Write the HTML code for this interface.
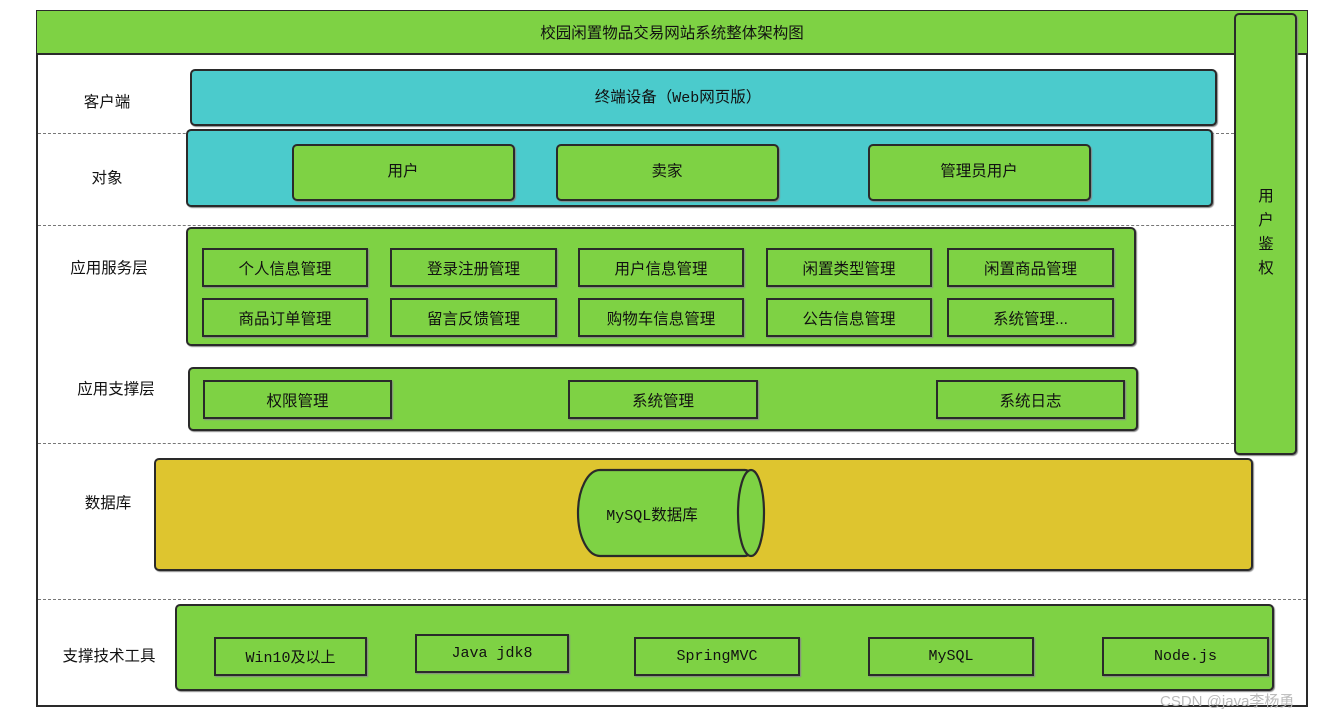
<!DOCTYPE html>
<html><head><meta charset="utf-8"><style>
*{margin:0;padding:0;box-sizing:border-box}
body{width:1332px;height:720px;background:#fff;position:relative;overflow:hidden;font-family:"Liberation Sans","Noto Sans CJK SC",sans-serif;font-size:15px;color:#111}
.a{position:absolute}
.b{position:absolute;border:2px solid #2a2a2a;border-radius:5px;box-shadow:1px 1px 1px #888}
.g{background:#7ed244}
.c{background:#4bcbcc}
.y{background:#dec52f}
.r{position:absolute;border:2.5px solid #2a2a2a;background:#7ed244;display:flex;align-items:center;justify-content:center;font-size:15.5px;box-shadow:1px 1px 1px #888}
.m{font-family:"Liberation Mono","Noto Sans CJK SC",monospace;font-size:15px}
.l{position:absolute;transform:translate(-50%,-50%);white-space:nowrap;font-size:15.5px}
.d{position:absolute;left:38px;height:0;border-top:1.5px dashed #777}
</style></head><body>
<div class="a" style="left:36px;top:10px;width:1272px;height:697px;border:2px solid #2a2a2a"></div>
<div class="a g" style="left:37px;top:11px;width:1270px;height:44px;border-bottom:2px solid #2a2a2a"></div>
<div class="l" style="left:672px;top:32px">校园闲置物品交易网站系统整体架构图</div>
<div class="d" style="top:133px;width:1196px"></div>
<div class="d" style="top:225px;width:1196px"></div>
<div class="d" style="top:443px;width:1196px"></div>
<div class="d" style="top:599px;width:1268px"></div>
<div class="l" style="left:107px;top:101px">客户端</div>
<div class="l" style="left:107px;top:177px">对象</div>
<div class="l" style="left:109px;top:267px">应用服务层</div>
<div class="l" style="left:116px;top:388px">应用支撑层</div>
<div class="l" style="left:108px;top:502px">数据库</div>
<div class="l" style="left:109px;top:655px">支撑技术工具</div>

<div class="b g" style="left:1234px;top:13px;width:63px;height:442px"></div>
<div class="l" style="left:1266px;top:233px;line-height:24px;text-align:center">用<br>户<br>鉴<br>权</div>

<div class="b c" style="left:190px;top:69px;width:1027px;height:57px"></div>
<div class="l" style="left:678px;top:96px">终端设备（<span class="m">Web</span>网页版）</div>

<div class="b c" style="left:186px;top:129px;width:1027px;height:78px"></div>
<div class="b g" style="left:292px;top:144px;width:223px;height:57px;border-radius:5px"></div><div class="l" style="left:403px;top:170px">用户</div>
<div class="b g" style="left:556px;top:144px;width:223px;height:57px"></div><div class="l" style="left:667px;top:170px">卖家</div>
<div class="b g" style="left:868px;top:144px;width:223px;height:57px"></div><div class="l" style="left:979px;top:170px">管理员用户</div>

<div class="b g" style="left:186px;top:227px;width:950px;height:119px"></div>
<div class="r" style="left:202px;top:248px;width:166px;height:39px">个人信息管理</div>
<div class="r" style="left:390px;top:248px;width:167px;height:39px">登录注册管理</div>
<div class="r" style="left:578px;top:248px;width:166px;height:39px">用户信息管理</div>
<div class="r" style="left:766px;top:248px;width:166px;height:39px">闲置类型管理</div>
<div class="r" style="left:947px;top:248px;width:167px;height:39px">闲置商品管理</div>
<div class="r" style="left:202px;top:298px;width:166px;height:39px">商品订单管理</div>
<div class="r" style="left:390px;top:298px;width:167px;height:39px">留言反馈管理</div>
<div class="r" style="left:578px;top:298px;width:166px;height:39px">购物车信息管理</div>
<div class="r" style="left:766px;top:298px;width:166px;height:39px">公告信息管理</div>
<div class="r" style="left:947px;top:298px;width:167px;height:39px">系统管理...</div>

<div class="b g" style="left:188px;top:367px;width:950px;height:64px"></div>
<div class="r" style="left:203px;top:380px;width:189px;height:39px">权限管理</div>
<div class="r" style="left:568px;top:380px;width:190px;height:39px">系统管理</div>
<div class="r" style="left:936px;top:380px;width:189px;height:39px">系统日志</div>

<div class="b y" style="left:154px;top:458px;width:1099px;height:113px"></div>
<svg class="a" style="left:570px;top:465px" width="205" height="100">
<path d="M30,5 L175,5 A15,43 0 0 1 175,91 L30,91 A22,43 0 0 1 30,5 Z" fill="#7ed244" stroke="#2a2a2a" stroke-width="2.2"/>
<ellipse cx="181" cy="48" rx="13" ry="43" fill="#7ed244" stroke="#2a2a2a" stroke-width="2.2"/>
</svg>
<div class="l" style="left:652px;top:514px"><span class="m">MySQL</span>数据库</div>

<div class="b g" style="left:175px;top:604px;width:1099px;height:87px"></div>
<div class="r m" style="left:214px;top:637px;width:153px;height:39px">Win10及以上</div>
<div class="r m" style="left:415px;top:634px;width:154px;height:39px">Java jdk8</div>
<div class="r m" style="left:634px;top:637px;width:166px;height:39px">SpringMVC</div>
<div class="r m" style="left:868px;top:637px;width:166px;height:39px">MySQL</div>
<div class="r m" style="left:1102px;top:637px;width:167px;height:39px">Node.js</div>

<div class="a" style="left:1160px;top:690px;font-size:15px;color:#bbb;white-space:nowrap">CSDN @java李杨勇</div>
</body></html>
